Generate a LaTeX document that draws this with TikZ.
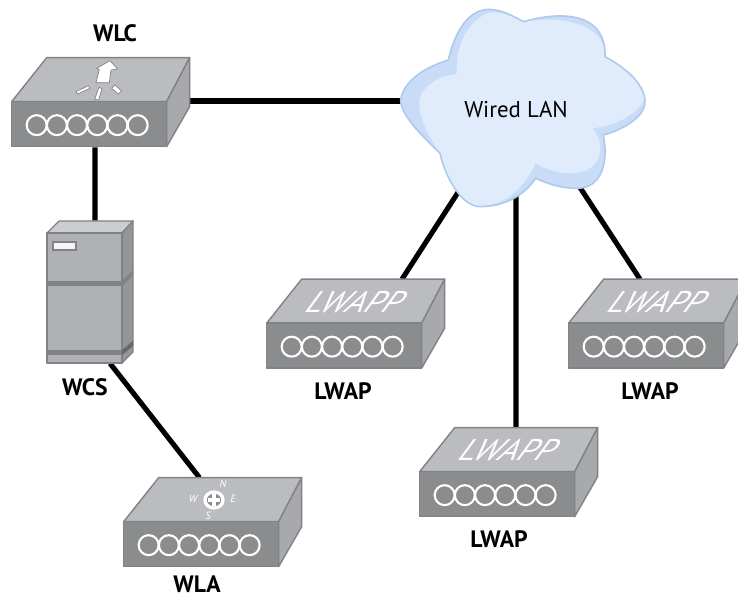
\documentclass[tikz,border=0pt]{standalone}
\usepackage{fontspec}
\setmainfont{PT Sans}
\usetikzlibrary{positioning,backgrounds}
\definecolor{devtop}{RGB}{187,188,191}
\definecolor{devfront}{RGB}{138,140,142}
\definecolor{devside}{RGB}{167,169,172}
\definecolor{devline}{RGB}{128,130,133}
\definecolor{towerfront}{RGB}{176,177,180}
\definecolor{lanedge}{RGB}{175,201,236}
\definecolor{lanshade}{RGB}{200,219,247}
\definecolor{lanfill}{RGB}{224,235,251}
\tikzstyle{link} = [line width=2.9pt,black]
\tikzstyle{devbox} = [rectangle, minimum width=3.56cm, minimum height=1.78cm, inner sep=0pt]
\tikzstyle{towerbox} = [rectangle, minimum width=1.72cm, minimum height=2.84cm, inner sep=0pt]
\tikzstyle{devlabel} = [font=\fontsize{13.5}{15}\selectfont\bfseries, text=black, inner sep=0pt]
\tikzstyle{part} = [draw=devline, line width=0.8pt, line join=round]
\tikzstyle{arrowmark} = [draw=devline, fill=white, line width=0.4pt, line join=round]
\tikzstyle{aptext} = [white, xslant=0.5, xscale=1.12, font=\fontsize{17}{18}\selectfont\itshape]
\tikzstyle{compass} = [white, font=\fontsize{6}{7}\selectfont\itshape]
\tikzset{
  boxbody/.pic={
    \path[part, fill=devtop] (0,44) -- (35,0) -- (178,0) -- (155,44) -- cycle;
    \path[part, fill=devside] (155,44) -- (178,0) -- (178,49) -- (155,89) -- cycle;
    \path[part, fill=devfront] (0,44) rectangle (155,89);
    \foreach \i in {0,...,5}
      \draw[white, line width=1.2pt] (25+20.2*\i,67.5) circle (10);
  }
}

\begin{document}
\begin{tikzpicture}[x=0.02cm,y=-0.02cm]
\useasboundingbox (0,0) rectangle (738,598);
\clip (0,0) rectangle (738,598);

% Cloud at top right
\begin{scope}[shift={(390,0)},x=0.00667cm,y=-0.00667cm]
\fill[lanshade] (32,300) .. controls (40,240) and (110,200) .. (175,180)
  .. controls (195,90) and (240,25) .. (300,28)
  .. controls (340,30) and (370,50) .. (402,65)
  .. controls (500,35) and (650,30) .. (645,170)
  .. controls (720,210) and (765,260) .. (765,305)
  .. controls (765,350) and (700,390) .. (640,405)
  .. controls (655,480) and (640,565) .. (560,565)
  .. controls (510,565) and (470,550) .. (437,535)
  .. controls (400,590) and (340,620) .. (270,620)
  .. controls (215,620) and (165,530) .. (150,460)
  .. controls (110,420) and (32,350) .. (32,300) -- cycle;
\fill[lanfill] (88,300) .. controls (95,260) and (150,225) .. (200,222)
  .. controls (195,130) and (240,55) .. (300,38)
  .. controls (340,35) and (370,50) .. (402,65)
  .. controls (500,50) and (610,60) .. (642,140)
  -- (645,170)
  .. controls (720,210) and (765,260) .. (763,300)
  .. controls (740,340) and (690,375) .. (608,385)
  .. controls (640,420) and (635,470) .. (615,490)
  .. controls (590,530) and (500,530) .. (437,490)
  .. controls (400,570) and (340,618) .. (270,618)
  .. controls (215,620) and (165,530) .. (150,460)
  .. controls (110,400) and (85,350) .. (88,300) -- cycle;
\draw[lanedge, line width=0.9pt, line join=round] (32,300) .. controls (40,240) and (110,200) .. (175,180)
  .. controls (195,90) and (240,25) .. (300,28)
  .. controls (340,30) and (370,50) .. (402,65)
  .. controls (500,35) and (650,30) .. (645,170)
  .. controls (720,210) and (765,260) .. (765,305)
  .. controls (765,350) and (700,390) .. (640,405)
  .. controls (655,480) and (640,565) .. (560,565)
  .. controls (510,565) and (470,550) .. (437,535)
  .. controls (400,590) and (340,620) .. (270,620)
  .. controls (215,620) and (165,530) .. (150,460)
  .. controls (110,420) and (32,350) .. (32,300) -- cycle;
\end{scope}
\node (lan) [rectangle, minimum width=4.9cm, minimum height=3.94cm, inner sep=0pt] at (523.5,106.5) {};
\node (lantext) [font=\fontsize{13}{15}\selectfont] at (516,110) {Wired LAN};

% WLC at top left
\node (wlc) [devbox] at (101,102.5) {};
\pic at (wlc.north west) {boxbody};
\begin{scope}[shift={(0,10)},x=0.00667cm,y=-0.00667cm]
\draw[arrowmark] (330,152) -- (353,177) -- (333,180) -- (328,218) -- (288,218) -- (298,178) -- (290,175) -- cycle;
\draw[arrowmark] (228,245) -- (265,227) -- (270,235) -- (232,252) -- cycle;
\draw[arrowmark] (284,268) -- (297,232) -- (306,236) -- (296,270) -- cycle;
\draw[arrowmark] (335,235) -- (345,225) -- (365,243) -- (355,252) -- cycle;
\end{scope}
\node (wlclabel) [devlabel] at (115,33) {WLC};

% WCS tower
\node (wcs) [towerbox] at (90,292) {};
\draw[part, fill=devtop!75!white] (47,233) -- (59,221) -- (133,221) -- (122,233) -- cycle;
\draw[part, fill=devline!85!white] (122,233) -- (133,221) -- (133,352) -- (122,363) -- cycle;
\draw[part, fill=towerfront] (47,233) rectangle (122,363);
\fill[devline] (47,281) rectangle (122,286);
\fill[devline] (47,350) rectangle (122,355);
\fill[devline] (122,281) -- (133,270) -- (133,275) -- (122,286) -- cycle;
\fill[devline!80!black] (122,350) -- (133,341) -- (133,346) -- (122,355) -- cycle;
\draw[draw=devline, fill=white!85!devtop, line width=0.8pt] (53,242) rectangle (76,250);
\node (wcslabel) [devlabel] at (85,387) {WCS};

% WLA at bottom
\node (wla) [devbox] at (213,522.5) {};
\pic at (wla.north west) {boxbody};
\draw[white, fill=devfront, line width=1.9pt] (214,500) ellipse (9 and 8);
\draw[white, line width=2pt] (208,500) -- (220,500) (214,494) -- (214,506);
\node (wlan) [compass] at (223,484) {N};
\node (wlaw) [compass] at (193,499) {W};
\node (wlae) [compass] at (233,499) {E};
\node (wlas) [compass] at (208,516) {S};
\node (wlalabel) [devlabel] at (197,584) {WLA};

% Access points
\node (lwapa) [devbox] at (356,324) {};
\pic at (lwapa.north west) {boxbody};
\node (lwapatext) [aptext] at (356,302) {LWAPP};
\node (lwapalabel) [devlabel] at (343,391) {LWAP};

\node (lwapb) [devbox] at (509,472.5) {};
\pic at (lwapb.north west) {boxbody};
\node (lwapbtext) [aptext] at (509,450) {LWAPP};
\node (lwapblabel) [devlabel] at (499,539) {LWAP};

\node (lwapc) [devbox] at (658,324) {};
\pic at (lwapc.north west) {boxbody};
\node (lwapctext) [aptext] at (658,302) {LWAPP};
\node (lwapclabel) [devlabel] at (650,391) {LWAP};

% Connections
\begin{pgfonlayer}{background}
\draw[link] ([yshift=0.03cm]wlc.east) -- ([yshift=0.03cm]wlc.east -| lan.center);
\draw[link] ([xshift=-0.12cm]wlc.south) -- ([xshift=0.1cm]wcs.north);
\draw[link] ([xshift=0.4cm]wcs.south) -- ([xshift=-0.27cm]wla.north);
\draw[link] ([xshift=-0.2cm]lan.center) -- ([xshift=0.92cm]lwapa.north);
\draw[link] ([xshift=-0.15cm]lan.center) -- ([xshift=0.14cm]lwapb.north);
\draw[link] ([xshift=0.07cm]lan.center) -- ([xshift=-0.36cm]lwapc.north);
\end{pgfonlayer}
\end{tikzpicture}
\end{document}
